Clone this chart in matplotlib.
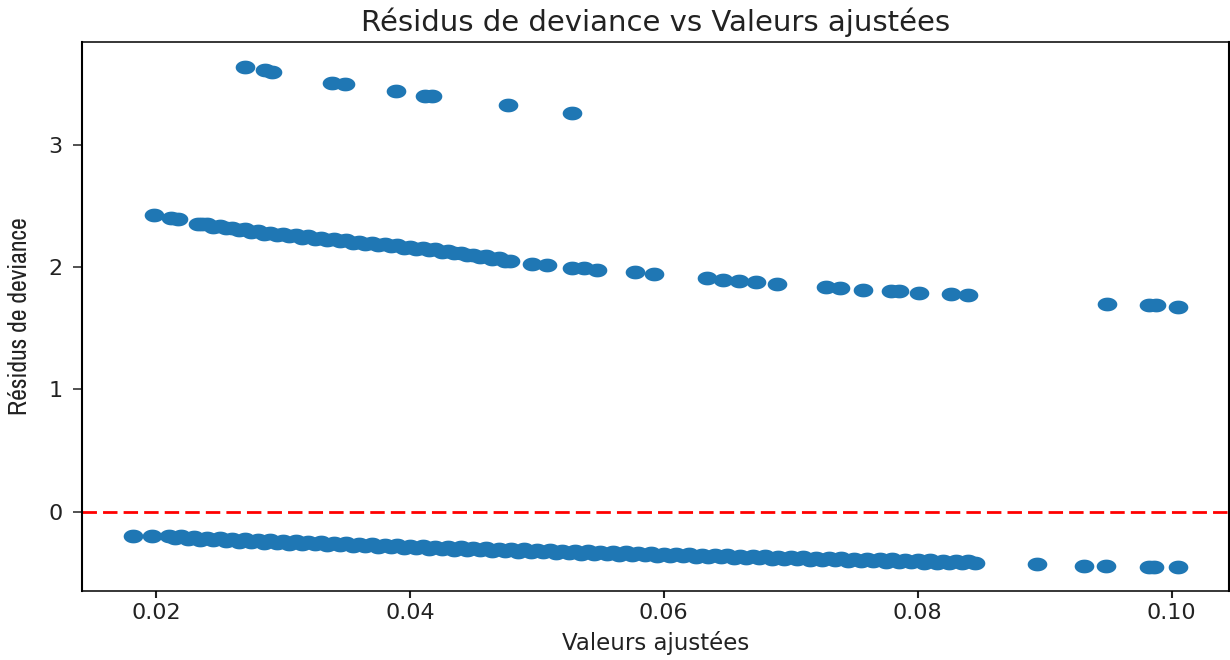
import numpy as np
import matplotlib
matplotlib.use("Agg")
import matplotlib.pyplot as plt
from matplotlib.path import Path
from matplotlib import font_manager

# ---------------- data ----------------
# upper band (highest residuals)
top_x = [0.0270, 0.0286, 0.0291, 0.0339, 0.0349, 0.0389, 0.0412, 0.0417, 0.0477, 0.0528]
top_y = [3.636, 3.609, 3.595, 3.505, 3.494, 3.437, 3.399, 3.399, 3.320, 3.260]

# middle band
mid_x = [0.0198, 0.0212, 0.0217, 0.0233, 0.0236, 0.0240, 0.0245, 0.0250, 0.0255, 0.0260,
         0.0265, 0.0270, 0.0275, 0.0280, 0.0285, 0.0290, 0.0295, 0.0300, 0.0305, 0.0310,
         0.0315, 0.0320, 0.0325, 0.0330, 0.0335, 0.0340, 0.0345, 0.0350, 0.0355, 0.0360,
         0.0365, 0.0370, 0.0375, 0.0380, 0.0385, 0.0390, 0.0395, 0.0400, 0.0405, 0.0410,
         0.0415, 0.0420, 0.0425, 0.0430, 0.0435, 0.0440, 0.0445, 0.0450, 0.0455, 0.0460,
         0.0465, 0.0470, 0.0475, 0.0479, 0.0496, 0.0508, 0.0528, 0.0537, 0.0547, 0.0577,
         0.0592, 0.0634, 0.0647, 0.0659, 0.0673, 0.0689, 0.0728, 0.0739, 0.0757, 0.0779,
         0.0785, 0.0801, 0.0826, 0.0840, 0.0949, 0.0982, 0.0988, 0.1005]
mid_y = [2.424, 2.400, 2.390, 2.350, 2.348, 2.351, 2.330, 2.336, 2.314, 2.321,
         2.300, 2.306, 2.284, 2.291, 2.270, 2.278, 2.259, 2.268, 2.249, 2.258,
         2.240, 2.249, 2.230, 2.240, 2.220, 2.228, 2.209, 2.218, 2.198, 2.206,
         2.187, 2.196, 2.177, 2.186, 2.167, 2.176, 2.157, 2.166, 2.147, 2.156,
         2.137, 2.146, 2.124, 2.131, 2.110, 2.116, 2.094, 2.101, 2.080, 2.086,
         2.064, 2.071, 2.048, 2.045, 2.022, 2.012, 1.990, 1.990, 1.978, 1.956,
         1.945, 1.910, 1.895, 1.888, 1.875, 1.862, 1.838, 1.825, 1.812, 1.803,
         1.803, 1.790, 1.778, 1.768, 1.697, 1.689, 1.685, 1.675]

# lower band (negative residuals)
low_x = [0.0182, 0.0197, 0.0210, 0.0215, 0.0220, 0.0225, 0.0230, 0.0235, 0.0240, 0.0245,
         0.0250, 0.0255, 0.0260, 0.0265, 0.0270, 0.0275, 0.0280, 0.0285, 0.0290, 0.0295,
         0.0300, 0.0305, 0.0310, 0.0315, 0.0320, 0.0325, 0.0330, 0.0335, 0.0340, 0.0345,
         0.0350, 0.0355, 0.0360, 0.0365, 0.0370, 0.0375, 0.0380, 0.0385, 0.0390, 0.0395,
         0.0400, 0.0405, 0.0410, 0.0415, 0.0420, 0.0425, 0.0430, 0.0435, 0.0440, 0.0445,
         0.0450, 0.0455, 0.0460, 0.0465, 0.0470, 0.0475, 0.0480, 0.0485, 0.0490, 0.0495,
         0.0500, 0.0505, 0.0510, 0.0515, 0.0520, 0.0525, 0.0530, 0.0535, 0.0540, 0.0545,
         0.0550, 0.0555, 0.0560, 0.0565, 0.0570, 0.0575, 0.0580, 0.0585, 0.0590, 0.0595,
         0.0600, 0.0605, 0.0610, 0.0615, 0.0620, 0.0625, 0.0630, 0.0635, 0.0640, 0.0645,
         0.0650, 0.0655, 0.0660, 0.0665, 0.0670, 0.0675, 0.0680, 0.0685, 0.0690, 0.0695,
         0.0700, 0.0705, 0.0710, 0.0715, 0.0720, 0.0725, 0.0730, 0.0735, 0.0740, 0.0745,
         0.0750, 0.0755, 0.0760, 0.0765, 0.0770, 0.0775, 0.0780, 0.0785, 0.0790, 0.0795,
         0.0800, 0.0805, 0.0810, 0.0815, 0.0820, 0.0825, 0.0830, 0.0835, 0.0840, 0.0845,
         0.0894, 0.0931, 0.0948, 0.0982, 0.0986, 0.1005]
low_y = [-0.195, -0.200, -0.197, -0.219, -0.202, -0.224, -0.207, -0.229, -0.212, -0.234,
         -0.217, -0.239, -0.222, -0.244, -0.227, -0.249, -0.232, -0.253, -0.235, -0.256,
         -0.239, -0.260, -0.242, -0.264, -0.247, -0.268, -0.250, -0.271, -0.254, -0.275,
         -0.258, -0.279, -0.262, -0.283, -0.266, -0.287, -0.270, -0.291, -0.274, -0.295,
         -0.278, -0.299, -0.282, -0.303, -0.285, -0.306, -0.289, -0.310, -0.292, -0.313,
         -0.295, -0.316, -0.299, -0.320, -0.302, -0.323, -0.305, -0.326, -0.308, -0.329,
         -0.312, -0.333, -0.315, -0.336, -0.318, -0.339, -0.321, -0.342, -0.324, -0.345,
         -0.327, -0.348, -0.330, -0.351, -0.333, -0.354, -0.336, -0.357, -0.339, -0.360,
         -0.342, -0.363, -0.345, -0.366, -0.348, -0.369, -0.351, -0.371, -0.353, -0.374,
         -0.356, -0.377, -0.359, -0.380, -0.362, -0.382, -0.364, -0.385, -0.367, -0.388,
         -0.370, -0.390, -0.372, -0.393, -0.375, -0.396, -0.378, -0.398, -0.380, -0.401,
         -0.383, -0.403, -0.385, -0.406, -0.388, -0.408, -0.390, -0.411, -0.393, -0.413,
         -0.395, -0.416, -0.398, -0.418, -0.400, -0.420, -0.402, -0.423, -0.405, -0.418,
         -0.430, -0.440, -0.445, -0.450, -0.450, -0.455]

x_ticks = [0.02, 0.04, 0.06, 0.08, 0.10]
x_tick_labels = ["0.02", "0.04", "0.06", "0.08", "0.10"]
y_ticks = [0, 1, 2, 3]
y_tick_labels = ["0", "1", "2", "3"]

title = "Résidus de deviance vs Valeurs ajustées"
xlabel = "Valeurs ajustées"
ylabel = "Résidus de deviance"

# ---------------- figure ----------------
fig = plt.figure(figsize=(12.3, 6.6), dpi=100)
ax = fig.add_axes([0.0664, 0.1053, 0.9325, 0.8315])

# horizontally stretched (elliptical) marker, like the reference
t = np.linspace(0, 2 * np.pi, 60)
ellipse = Path(np.column_stack([np.cos(t), 0.70 * np.sin(t)]), closed=True)

blue = "#1f77b4"
xs = top_x + mid_x + low_x
ys = top_y + mid_y + low_y
ax.scatter(xs, ys, s=200, marker=ellipse, color=blue, linewidths=0)

ax.axhline(0, color="red", linestyle=(0, (5.2, 2.2)), linewidth=2.0)

ax.set_xlim(0.01414, 0.1045)
ax.set_ylim(-0.644, 3.84)

ax.set_xticks(x_ticks)
ax.set_xticklabels(x_tick_labels)
ax.set_yticks(y_ticks)
ax.set_yticklabels(y_tick_labels)

ax.tick_params(axis="x", labelsize=16, length=4.8, width=1.5, pad=4.5, colors="#222222")
ax.tick_params(axis="y", labelsize=16, length=6.7, width=1.1, pad=7.0, colors="#222222")

for side in ("left", "right"):
    ax.spines[side].set_linewidth(1.5)
for side in ("top", "bottom"):
    ax.spines[side].set_linewidth(1.1)

ax.set_title(title, fontsize=21, pad=8, color="#222222")
ax.set_xlabel(xlabel, fontsize=16.5, color="#222222")
ax.xaxis.set_label_coords(0.5, -0.074)

# narrow font for the y label if one is installed
narrow = None
for f in font_manager.fontManager.ttflist:
    nm = f.name.lower()
    if "narrow" in nm or "condensed" in nm:
        narrow = (f.name, "normal")
        break
    if f.name == "DejaVu Sans" and str(f.stretch) in ("condensed", "semi-condensed"):
        narrow = ("DejaVu Sans", "condensed")
if narrow is not None:
    ax.set_ylabel(ylabel, fontsize=18.5, family=[narrow[0], "DejaVu Sans"],
                  fontstretch=narrow[1], color="#222222")
else:
    ax.set_ylabel(ylabel, fontsize=14, color="#222222")
ax.yaxis.set_label_coords(-0.044, 0.5)

fig.savefig("out.png", dpi=100)
